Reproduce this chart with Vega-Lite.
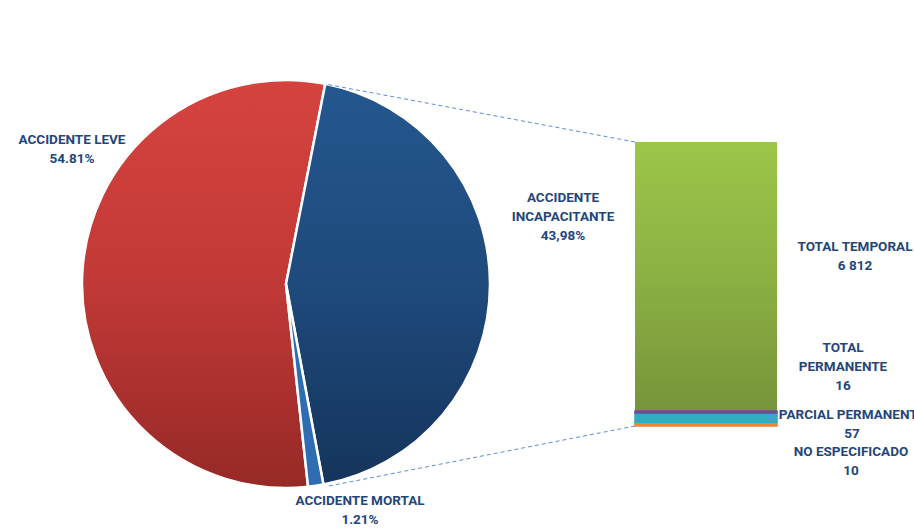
{
  "$schema": "https://vega.github.io/schema/vega-lite/v6.json",
  "background": "white",
  "padding": {"left": 18, "top": 75, "right": 0, "bottom": 0},
  "bounds": "flush",
  "center": true,
  "spacing": 145,
  "config": {
    "view": {"stroke": null},
    "text": {"font": "Roboto", "fontWeight": "bold", "fontSize": 13.5, "lineHeight": 19, "color": "#23467a", "align": "center", "baseline": "middle", "lineBreak": "\n"}
  },
  "datasets": {
    "pie": [
      {"categoria": "ACCIDENTE INCAPACITANTE", "porcentaje": 43.98, "orden": 1, "etiqueta": "ACCIDENTE\nINCAPACITANTE\n43,98%"},
      {"categoria": "ACCIDENTE MORTAL", "porcentaje": 1.21, "orden": 2, "etiqueta": "ACCIDENTE MORTAL\n1.21%"},
      {"categoria": "ACCIDENTE LEVE", "porcentaje": 54.81, "orden": 3, "etiqueta": "ACCIDENTE LEVE\n54.81%"}
    ],
    "barra": [
      {"tipo": "NO ESPECIFICADO", "casos": 10, "orden": 1, "etiqueta": "NO ESPECIFICADO\n10"},
      {"tipo": "PARCIAL PERMANENTE", "casos": 57, "orden": 2, "etiqueta": "PARCIAL PERMANENTE\n57"},
      {"tipo": "TOTAL PERMANENTE", "casos": 16, "orden": 3, "etiqueta": "TOTAL\nPERMANENTE\n16"},
      {"tipo": "TOTAL TEMPORAL", "casos": 6812, "orden": 4, "etiqueta": "TOTAL TEMPORAL\n6 812"}
    ]
  },
  "hconcat": [
    {
      "width": 408,
      "height": 408,
      "data": {"name": "pie"},
      "transform": [
        {"stack": "porcentaje", "groupby": [], "sort": [{"field": "orden", "order": "ascending"}], "as": ["lo", "hi"]}
      ],
      "layer": [
        {
          "transform": [{"filter": "datum.categoria === 'ACCIDENTE LEVE'"}],
          "mark": {"type": "arc", "stroke": "white", "strokeWidth": 2.5,
            "color": {"gradient": "linear", "x1": 0, "y1": 0, "x2": 0, "y2": 1,
              "stops": [{"offset": 0, "color": "#d6433f"}, {"offset": 0.5, "color": "#c13936"}, {"offset": 1, "color": "#962927"}]}},
          "encoding": {
            "theta": {"field": "lo", "type": "quantitative", "scale": {"domain": [0, 100], "range": [0.1937, 6.4769]}},
            "theta2": {"field": "hi"}
          }
        },
        {
          "transform": [{"filter": "datum.categoria === 'ACCIDENTE INCAPACITANTE'"}],
          "mark": {"type": "arc", "stroke": "white", "strokeWidth": 2.5,
            "color": {"gradient": "linear", "x1": 0, "y1": 0, "x2": 0, "y2": 1,
              "stops": [{"offset": 0, "color": "#24578f"}, {"offset": 0.5, "color": "#1e4a7c"}, {"offset": 1, "color": "#15345b"}]}},
          "encoding": {
            "theta": {"field": "lo", "type": "quantitative", "scale": {"domain": [0, 100], "range": [0.1937, 6.4769]}},
            "theta2": {"field": "hi"}
          }
        },
        {
          "transform": [{"filter": "datum.categoria === 'ACCIDENTE MORTAL'"}],
          "mark": {"type": "arc", "stroke": "white", "strokeWidth": 2.5, "color": "#2f6db3"},
          "encoding": {
            "theta": {"field": "lo", "type": "quantitative", "scale": {"domain": [0, 100], "range": [0.1937, 6.4769]}},
            "theta2": {"field": "hi"}
          }
        },
        {
          "transform": [{"filter": "datum.categoria === 'ACCIDENTE LEVE'"}],
          "mark": {"type": "text", "dx": -214, "dy": -144},
          "encoding": {"text": {"field": "etiqueta"}}
        },
        {
          "transform": [{"filter": "datum.categoria === 'ACCIDENTE INCAPACITANTE'"}],
          "mark": {"type": "text", "dx": 277, "dy": -86},
          "encoding": {"text": {"field": "etiqueta"}}
        },
        {
          "transform": [{"filter": "datum.categoria === 'ACCIDENTE MORTAL'"}],
          "mark": {"type": "text", "dx": 74, "dy": 217},
          "encoding": {"text": {"field": "etiqueta"}}
        }
      ]
    },
    {
      "width": 142,
      "height": 284,
      "data": {"name": "barra"},
      "transform": [
        {"stack": "casos", "groupby": [], "sort": [{"field": "orden", "order": "ascending"}], "as": ["lo", "hi"]}
      ],
      "layer": [
        {
          "transform": [{"filter": "datum.tipo === 'TOTAL TEMPORAL'"}],
          "mark": {"type": "bar",
            "color": {"gradient": "linear", "x1": 0, "y1": 0, "x2": 0, "y2": 1,
              "stops": [{"offset": 0, "color": "#9cc64a"}, {"offset": 0.5, "color": "#8cb043"}, {"offset": 1, "color": "#76943a"}]}},
          "encoding": {
            "x": {"datum": "ACCIDENTE INCAPACITANTE", "type": "nominal", "scale": {"paddingInner": 0, "paddingOuter": 0}, "axis": null},
            "y": {"field": "lo", "type": "quantitative", "scale": {"type": "pow", "exponent": 0.665, "domain": [0, 6895], "nice": false, "zero": true}, "axis": null},
            "y2": {"field": "hi"}
          }
        },
        {
          "transform": [{"filter": "datum.tipo !== 'TOTAL TEMPORAL'"}],
          "mark": {"type": "bar", "strokeWidth": 1.5},
          "encoding": {
            "x": {"datum": "ACCIDENTE INCAPACITANTE", "type": "nominal", "scale": {"paddingInner": 0, "paddingOuter": 0}, "axis": null},
            "y": {"field": "lo", "type": "quantitative", "scale": {"type": "pow", "exponent": 0.665, "domain": [0, 6895], "nice": false, "zero": true}, "axis": null},
            "y2": {"field": "hi"},
            "color": {"field": "tipo", "type": "nominal", "legend": null,
              "scale": {"domain": ["NO ESPECIFICADO", "PARCIAL PERMANENTE", "TOTAL PERMANENTE"], "range": ["#ee8434", "#35a9c5", "#6e4c9e"]}},
            "stroke": {"field": "tipo", "type": "nominal", "legend": null,
              "scale": {"domain": ["NO ESPECIFICADO", "PARCIAL PERMANENTE", "TOTAL PERMANENTE"], "range": ["#ee8434", "#35a9c5", "#6e4c9e"]}}
          }
        },
        {
          "transform": [{"filter": "datum.tipo === 'TOTAL TEMPORAL'"}],
          "mark": {"type": "text", "dx": 149, "dy": 105},
          "encoding": {"y": {"field": "hi", "type": "quantitative"}, "text": {"field": "etiqueta"}}
        },
        {
          "transform": [{"filter": "datum.tipo === 'TOTAL PERMANENTE'"}],
          "mark": {"type": "text", "dx": 137, "dy": -63},
          "encoding": {"y": {"field": "hi", "type": "quantitative"}, "text": {"field": "etiqueta"}}
        },
        {
          "transform": [{"filter": "datum.tipo === 'PARCIAL PERMANENTE'"}],
          "mark": {"type": "text", "dx": 146, "dy": 2},
          "encoding": {"y": {"field": "hi", "type": "quantitative"}, "text": {"field": "etiqueta"}}
        },
        {
          "transform": [{"filter": "datum.tipo === 'NO ESPECIFICADO'"}],
          "mark": {"type": "text", "dx": 145, "dy": 30},
          "encoding": {"y": {"field": "hi", "type": "quantitative"}, "text": {"field": "etiqueta"}}
        },
        {
          "transform": [{"filter": "datum.tipo === 'TOTAL TEMPORAL'"}],
          "mark": {"type": "rule", "color": "#5b8ed6", "strokeDash": [4, 3], "strokeWidth": 1},
          "encoding": {
            "x": {"value": 0},
            "y": {"field": "hi", "type": "quantitative"},
            "x2": {"value": -310},
            "y2": {"value": -58}
          }
        },
        {
          "transform": [{"filter": "datum.tipo === 'NO ESPECIFICADO'"}],
          "mark": {"type": "rule", "color": "#5b8ed6", "strokeDash": [4, 3], "strokeWidth": 1},
          "encoding": {
            "x": {"value": 0},
            "y": {"field": "lo", "type": "quantitative"},
            "x2": {"value": -306},
            "y2": {"value": 344}
          }
        }
      ]
    }
  ]
}
